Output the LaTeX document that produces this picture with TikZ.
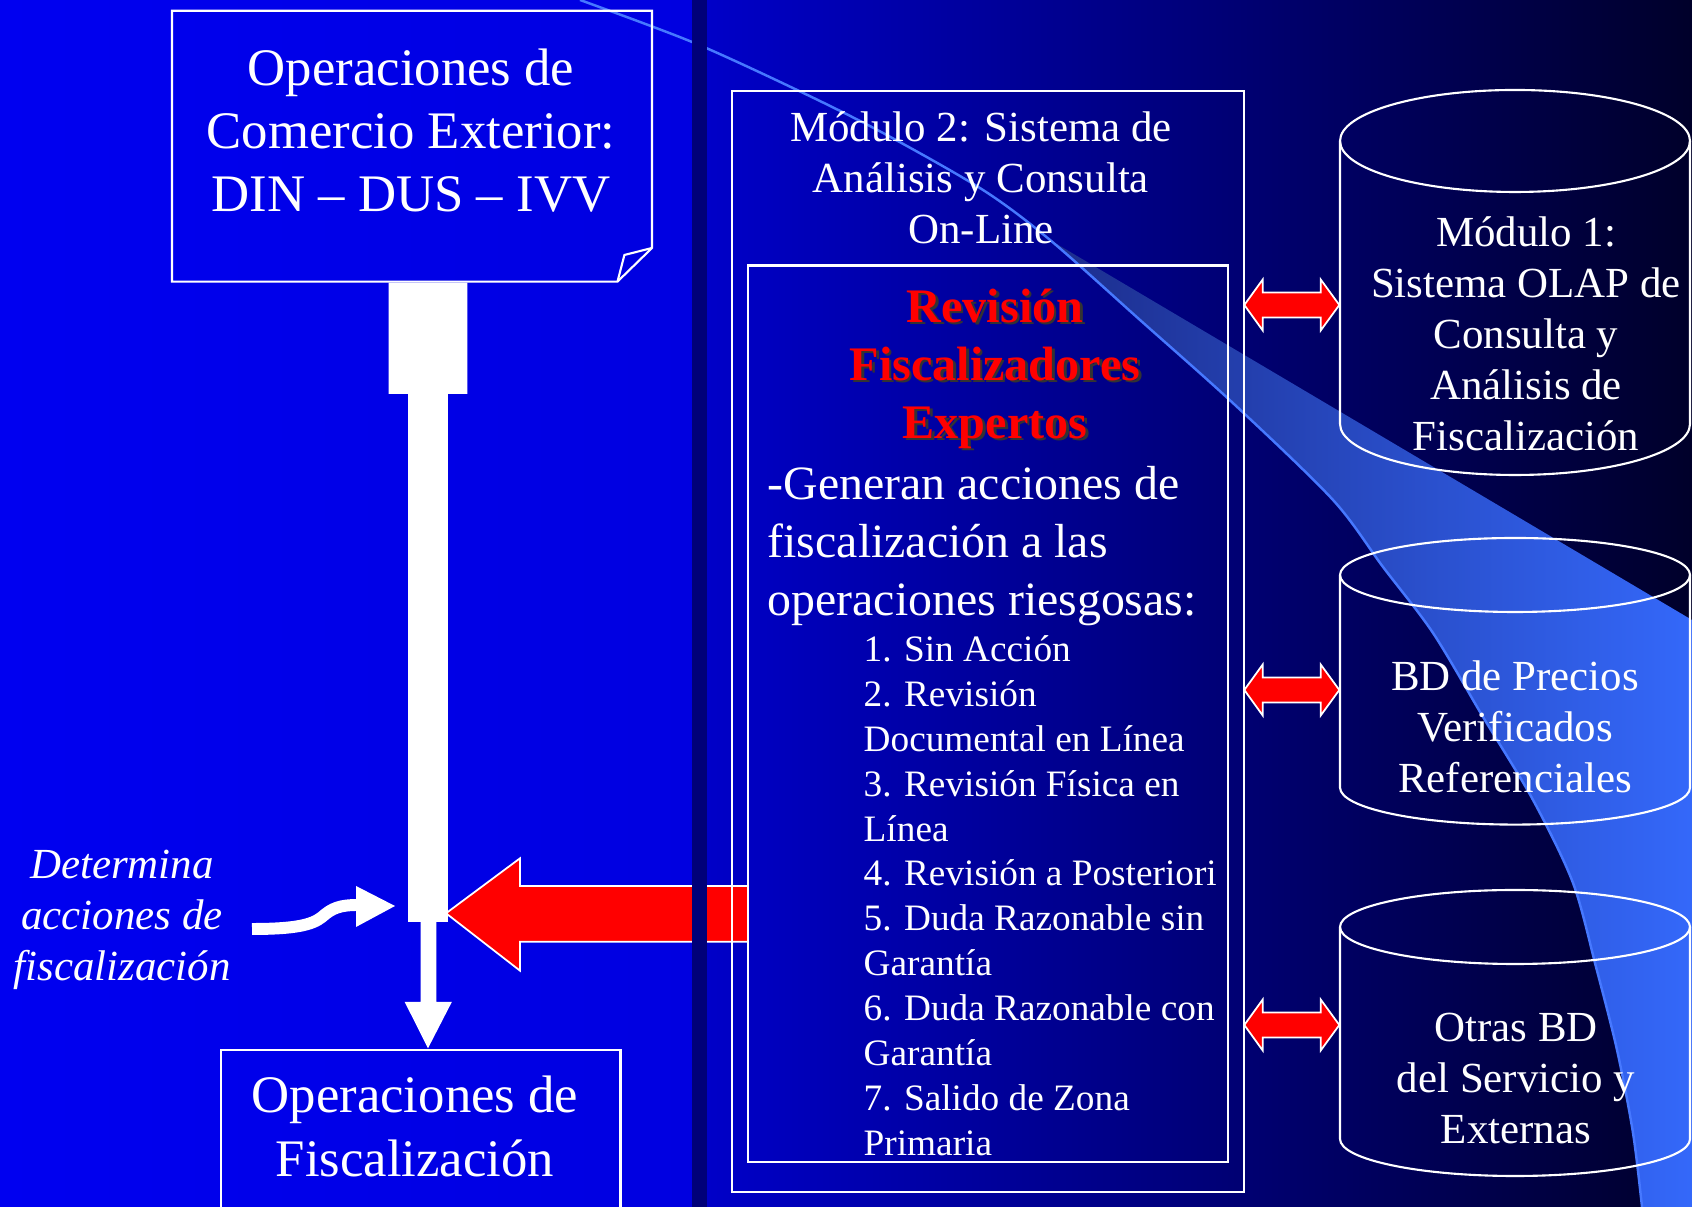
\documentclass[tikz,border=0pt]{standalone}
\usepackage{fontspec}
\setmainfont{Liberation Serif}
\usepackage{tikz}
\definecolor{leftbg}{RGB}{0,0,240}
\definecolor{leftbgend}{RGB}{0,0,224}
\definecolor{rightbg}{RGB}{0,0,200}
\definecolor{rightbgend}{RGB}{0,0,42}
\definecolor{bandnavy}{RGB}{0,0,120}
\definecolor{swooshleft}{RGB}{28,45,140}
\definecolor{swooshmid}{RGB}{46,88,215}
\definecolor{swooshright}{RGB}{52,104,250}
\definecolor{swooshline}{RGB}{70,120,255}
\tikzstyle{boxline}=[draw=white, line width=0.6pt]
\tikzstyle{bigtxt}=[text=white, align=center, inner sep=0pt, font=\fontsize{15}{18}\selectfont]
\tikzstyle{modtxt}=[text=white, align=center, inner sep=0pt, font=\fontsize{12.2}{14.5}\selectfont]
\tikzstyle{redtitle}=[text=red, align=center, inner sep=0pt, font=\fontsize{13.7}{16.5}\selectfont\bfseries]
\tikzstyle{bodytxt}=[text=white, align=left, inner sep=0pt, anchor=west, font=\fontsize{13.6}{16.4}\selectfont]
\tikzstyle{listtxt}=[text=white, align=left, inner sep=0pt, anchor=west, font=\fontsize{10.6}{12.76}\selectfont]
\tikzstyle{sidetxt}=[text=white, align=center, inner sep=0pt, font=\fontsize{12.2}{14.6}\selectfont\itshape]
\tikzstyle{redarrow}=[fill=red, draw=white, line width=0.5pt]

\begin{document}
\begin{tikzpicture}[x=0.01cm, y=0.01cm]
    \useasboundingbox (0,0) rectangle (1692,1207);
    % slide background
    \shade[left color=leftbg, right color=leftbgend] (0,0) rectangle (692,1207);
    \shade[left color=rightbg, right color=rightbgend] (707,0) rectangle (1692,1207);
    \shade[left color=swooshleft, middle color=swooshmid, right color=swooshright]
        plot[smooth] coordinates {(1050,967) (1140,887) (1235,802) (1333,707) (1383,640) (1433,574) (1483,490) (1533,407) (1573,324) (1596,240) (1617,157) (1633,74) (1642,0)}
        -- (1692,0) -- (1692,587) -- cycle;
    \draw[swooshline, line width=0.7pt] plot[smooth] coordinates {(580,1207) (692,1165) (797,1117) (883,1074) (983,1017) (1050,967) (1140,887) (1235,802) (1333,707) (1383,640) (1433,574) (1483,490) (1533,407) (1573,324) (1596,240) (1617,157) (1633,74) (1642,0)};

    % big red arrow
    \filldraw[redarrow] (446,293.7) -- (520,348.7) -- (520,321) -- (748,321) -- (748,265.3) -- (520,265.3) -- (520,236.3) -- cycle;
    \fill[bandnavy] (692,0) rectangle (707,1207);

    % left column
    \draw[boxline] (172,925.4) -- (172,1196.2) -- (652,1196.2) -- (652,959) -- (617.5,925.4) -- cycle;
    \draw[boxline] (652,959) -- (624.4,952) -- (617.5,925.4);
    \node[bigtxt] (comex) at (411,1076.5) {Operaciones de\\Comercio Exterior:\\DIN – DUS – IVV};
    \draw[boxline] (220.6,-5) -- (220.6,157) -- (620.5,157) -- (620.5,-5);
    \node[bigtxt] (fisc) at (415,80.5) {Operaciones de\\Fiscalización};
    \fill[white] (388.5,924.3) -- (467.3,924.3) -- (467.3,813) -- (447.8,813) -- (447.8,285)
        -- (436.3,285) -- (436.3,205) -- (451.8,205) -- (428,158.7) -- (404.7,205)
        -- (420.7,205) -- (420.7,285) -- (408,285) -- (408,813) -- (388.5,813) -- cycle;
    \node[sidetxt] (determina) at (122,287) {Determina\\acciones de\\fiscalización};
    \draw[white, line width=3.4pt] (252,278) .. controls (295,278) and (312,282) .. (322,290)
        .. controls (332,299) and (340,302) .. (358,302);
    \fill[white] (356,321) -- (395,301) -- (356,280) -- cycle;

    % module 2
    \draw[boxline] (731.6,14.6) rectangle (1244,1116.4);
    \draw[boxline] (747.8,45) rectangle (1228,941.5);
    \node[modtxt] (mod2) at (981,1029) {Módulo 2: Sistema de\\Análisis y Consulta\\On-Line};
    \node[redtitle, text=black!80] at (997.5,835.7) {Revisión\\Fiscalizadores\\Expertos};
    \node[redtitle] (revision) at (995,838) {Revisión\\Fiscalizadores\\Expertos};
    \node[bodytxt] (genera) at (767,661) {-Generan acciones de\\fiscalización a las\\operaciones riesgosas:};
    \node[listtxt] (lista) at (863,311.4) {1. Sin Acción\\2. Revisión\\Documental en Línea\\3. Revisión Física en\\Línea\\4. Revisión a Posteriori\\5. Duda Razonable sin\\Garantía\\6. Duda Razonable con\\Garantía\\7. Salido de Zona\\Primaria};

    % data bases
    \foreach \ty/\by/\ry in {1066/783/51, 632/419.4/37, 280/68/37}{
        \draw[boxline] (1515,\ty) ellipse [x radius=175, y radius=\ry];
        \draw[boxline] (1340,\ty) -- (1340,\by) arc[start angle=180, end angle=360, x radius=175, y radius=\ry] -- (1690,\ty);
    }
    \node[modtxt] (olap) at (1526,873) {Módulo 1:\\Sistema OLAP de\\Consulta y\\Análisis de\\Fiscalización};
    \node[modtxt] (precios) at (1515,480) {BD de Precios\\Verificados\\Referenciales};
    \node[modtxt] (otras) at (1516,128) {Otras BD\\del Servicio y\\Externas};
    \foreach \yc in {902,517,182}{
        \filldraw[redarrow] (1244.3,\yc) -- (1262.7,{\yc+25.5}) -- (1262.7,{\yc+12.5}) -- (1320.7,{\yc+12.5})
            -- (1320.7,{\yc+25.5}) -- (1339.3,\yc) -- (1320.7,{\yc-25.5}) -- (1320.7,{\yc-12.5})
            -- (1262.7,{\yc-12.5}) -- (1262.7,{\yc-25.5}) -- cycle;
    }
\end{tikzpicture}
\end{document}
